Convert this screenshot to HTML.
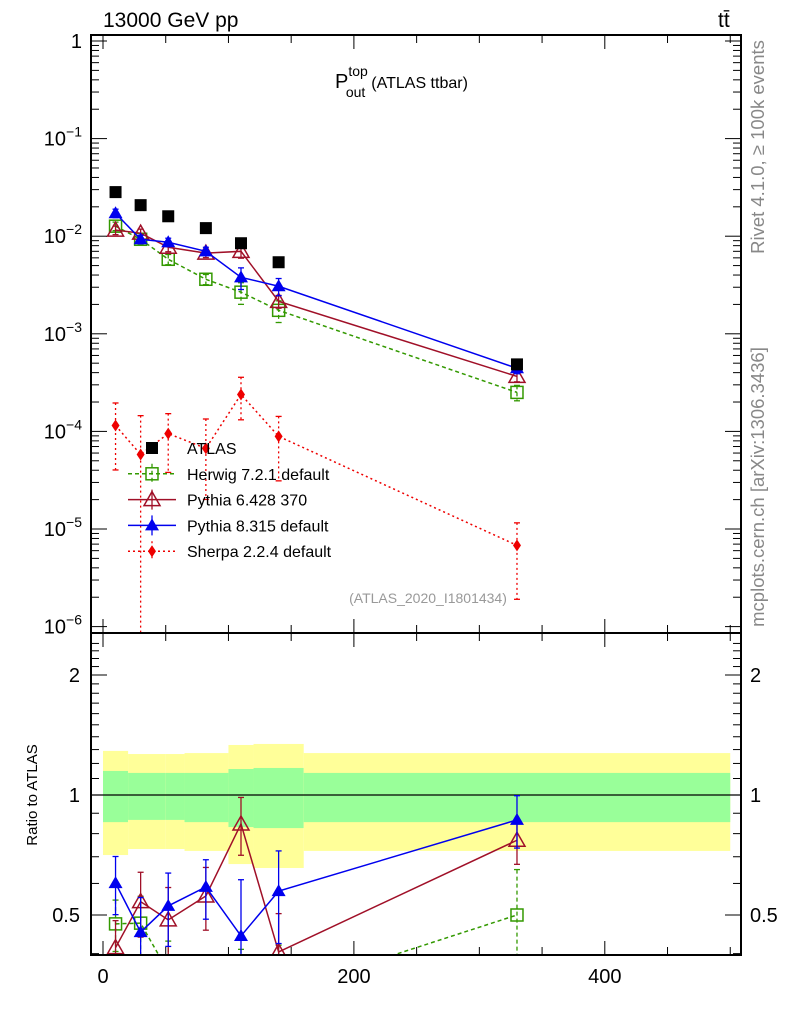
<!DOCTYPE html>
<html><head><meta charset="utf-8"><style>
body{margin:0;background:#fff;}
svg{font-family:"Liberation Sans","DejaVu Sans",sans-serif;}
</style></head><body>
<svg id="c" width="786" height="1024" viewBox="0 0 786 1024" xmlns="http://www.w3.org/2000/svg"></svg>
<script>
const xs=[10,30,52,82,110,140,330];
const atlas=[0.0283,0.0208,0.0160,0.0121,0.00847,0.00541,0.000486];
const herwig=[0.01267,0.0093,0.0058,0.00362,0.00267,0.00174,0.000251];
const herwigErr=[0.1,0.1,0.12,0.12,0.25,0.25,0.18];
const py6=[0.01153,0.01074,0.0077,0.0067,0.0070,0.00215,0.000366];
const py6Err=[0.1,0.1,0.1,0.1,0.15,0.15,0.12];
const py8=[0.0172,0.0093,0.00867,0.0070,0.00379,0.00307,0.000443];
const py8Err=[0.1,0.1,0.1,0.1,0.25,0.2,0.12];
const sherpa=[1.15e-4,5.8e-5,9.5e-5,6.7e-5,2.39e-4,8.9e-5,6.8e-6];
const sherpaUp=[1.7,2.5,1.6,2.0,1.5,1.6,1.7];
const sherpaDn=[0.35,0.01,0.4,0.3,0.55,0.35,0.28];
const rHerwig=[0.475,0.477,0.36,0.30,0.31,0.32,0.5];
const rHerwigErr=[0.07,0.08,0.07,0.06,0.1,0.1,0.15];
const rPy6=[0.414,0.54,0.486,0.558,0.846,0.404,0.77];
const rPy6Err=[0.07,0.1,0.1,0.1,0.14,0.1,0.1];
const rPy8=[0.601,0.453,0.527,0.588,0.443,0.574,0.866];
const rPy8Err=[0.1,0.1,0.11,0.1,0.17,0.15,0.13];
const binEdges=[0,20,50,65,100,120,160,500];
const yelHi=[1.29,1.267,1.267,1.274,1.335,1.343,1.274];
const yelLo=[0.707,0.732,0.732,0.724,0.671,0.656,0.724];
const grnHi=[1.149,1.136,1.136,1.136,1.162,1.169,1.136];
const grnLo=[0.855,0.866,0.866,0.855,0.831,0.826,0.855];
const xTicks=[0,200,400];
const yTickExp=[0,-1,-2,-3,-4,-5,-6];
const rTicks=[0.5,1,2];

const NS="http://www.w3.org/2000/svg",svg=document.getElementById('c');
const L=91,R=741,T=35,B=633,RB=955;
const X=v=>103+v*1.2545;
const Y=v=>41-97.6*Math.log10(v);
const RY=v=>795-120*Math.log2(v);
function el(t,a,p){const e=document.createElementNS(NS,t);for(const k in a)e.setAttribute(k,a[k]);(p||svg).appendChild(e);return e;}
function txt(s,x,y,a,p){const e=el('text',Object.assign({x:x,y:y},a),p);e.textContent=s;return e;}
const defs=el('defs',{});
const cp1=el('clipPath',{id:'cm'},defs);el('rect',{x:L,y:T,width:R-L,height:B-T},cp1);
const cp2=el('clipPath',{id:'cr'},defs);el('rect',{x:L,y:B,width:R-L,height:RB-B},cp2);

const gb=el('g',{'clip-path':'url(#cr)'});

for(let i=0;i<yelHi.length;i++){
 const x0=X(binEdges[i]),x1=X(binEdges[i+1]);
 const y1=el('rect',{x:x0,y:RY(yelHi[i]),width:x1-x0,height:RY(yelLo[i])-RY(yelHi[i]),fill:'#ffff99'},gb);
 
 const g1=el('rect',{x:x0,y:RY(grnHi[i]),width:x1-x0,height:RY(grnLo[i])-RY(grnHi[i]),fill:'#99ff99'},gb);
 
}
el('line',{x1:L,x2:R,y1:RY(1),y2:RY(1),stroke:'#000','stroke-width':1.2});

function marker(type,x,y,col,p){
 let m;
 if(type==='sq')m=el('rect',{x:x-6,y:y-6,width:12,height:12,fill:'#000'},p);
 else if(type==='osq')m=el('rect',{x:x-6,y:y-6,width:12,height:12,fill:'none',stroke:col,'stroke-width':1.5},p);
 else if(type==='otri')m=el('polygon',{points:`${x},${y-8} ${x-8},${y+6} ${x+8},${y+6}`,fill:'none',stroke:col,'stroke-width':1.5},p);
 else if(type==='tri')m=el('polygon',{points:`${x},${y-7} ${x-7},${y+5} ${x+7},${y+5}`,fill:col},p);
 else if(type==='dia')m=el('polygon',{points:`${x},${y-6} ${x-4},${y} ${x},${y+6} ${x+4},${y}`,fill:col},p);
 
}
function series(name,vals,lo,hi,Yf,col,dash,type,clip){
 const g=el('g',{'clip-path':clip});
 
 if(col!=='#000'){
  const pts=vals.map((v,i)=>X(xs[i])+','+Yf(v)).join(' ');
  el('polyline',{points:pts,fill:'none',stroke:col,'stroke-width':1.5,'stroke-dasharray':dash||'none'},g);
 }
 vals.forEach((v,i)=>{
  const x=X(xs[i]);
  if(lo){const a=Yf(hi[i]),b=Yf(Math.max(lo[i],1e-9));
   el('line',{x1:x,x2:x,y1:a,y2:b,stroke:col,'stroke-width':1.3,'stroke-dasharray':dash||'none'},g);
   el('line',{x1:x-3,x2:x+3,y1:a,y2:a,stroke:col,'stroke-width':1.3},g);
   el('line',{x1:x-3,x2:x+3,y1:b,y2:b,stroke:col,'stroke-width':1.3},g);}
  marker(type,x,Yf(v),col,g);
 });
}
const rel=(v,e)=>[v.map((a,i)=>a*(1-e[i])),v.map((a,i)=>a*(1+e[i]))];
const abs=(v,e)=>[v.map((a,i)=>a-e[i]),v.map((a,i)=>a+e[i])];
let t;
t=rel(herwig,herwigErr);series('herwig-series',herwig,t[0],t[1],Y,'#339900','4,3','osq','url(#cm)');
t=rel(py6,py6Err);series('pythia6-series',py6,t[0],t[1],Y,'#a01028',null,'otri','url(#cm)');
t=rel(py8,py8Err);series('pythia8-series',py8,t[0],t[1],Y,'#0000ee',null,'tri','url(#cm)');
series('sherpa-series',sherpa,sherpa.map((v,i)=>v*sherpaDn[i]),sherpa.map((v,i)=>v*sherpaUp[i]),Y,'#ee0000','2,3','dia','url(#cm)');
series('atlas-series',atlas,null,null,Y,'#000',null,'sq','url(#cm)');
t=abs(rHerwig,rHerwigErr);series('herwig-ratio',rHerwig,t[0],t[1],RY,'#339900','4,3','osq','url(#cr)');
t=abs(rPy6,rPy6Err);series('pythia6-ratio',rPy6,t[0],t[1],RY,'#a01028',null,'otri','url(#cr)');
t=abs(rPy8,rPy8Err);series('pythia8-ratio',rPy8,t[0],t[1],RY,'#0000ee',null,'tri','url(#cr)');

const fr=el('rect',{x:L,y:T,width:R-L,height:B-T,fill:'none',stroke:'#000','stroke-width':2});

const fr2=el('rect',{x:L,y:B,width:R-L,height:RB-B,fill:'none',stroke:'#000','stroke-width':2});

for(let v=0;v<=500;v+=50){
 const x=X(v),len=(v%200===0)?14:8;
 [[T,1],[B,-1],[B,1],[RB,-1]].forEach(([y,d])=>el('line',{x1:x,x2:x,y1:y,y2:y+d*len,stroke:'#000','stroke-width':1}));
}
xTicks.forEach(v=>{const e=txt(String(v),X(v),983,{'font-size':20,'text-anchor':'middle'});});
yTickExp.forEach(p=>{
 for(let m=1;m<10;m++){
  const v=Math.pow(10,p)*m;const y=Y(v);if(y<T||y>B)continue;
  const len=m===1?16:8;
  el('line',{x1:L,x2:L+len,y1:y,y2:y,stroke:'#000'});el('line',{x1:R,x2:R-len,y1:y,y2:y,stroke:'#000'});
 }
 const y=Y(Math.pow(10,p));
 const g=el('text',{x:82,y:y+7,'font-size':20,'text-anchor':'end'});
 
 if(p===0)g.textContent='1';else{const a=el('tspan',{},g);a.textContent='10';const b=el('tspan',{dy:-9,'font-size':14});b.textContent='\u2212'+(-p);g.appendChild(b);}
});
for(let v=0.4;v<=2.5;v+=0.1){const y=RY(v);if(y<B||y>RB)continue;const maj=[0.5,1,2].some(q=>Math.abs(q-v)<1e-6);const len=maj?16:8;
 el('line',{x1:L,x2:L+len,y1:y,y2:y,stroke:'#000'});el('line',{x1:R,x2:R-len,y1:y,y2:y,stroke:'#000'});}
rTicks.forEach(v=>{const a=txt(String(v),80,RY(v)+7,{'font-size':20,'text-anchor':'end'});
 const b=txt(String(v),750,RY(v)+7,{'font-size':20});});
const leg=el('g',{});
const ent=[['ATLAS','#000',null,'sq'],['Herwig 7.2.1 default','#339900','4,3','osq'],['Pythia 6.428 370','#a01028',null,'otri'],['Pythia 8.315 default','#0000ee',null,'tri'],['Sherpa 2.2.4 default','#ee0000','2,3','dia']];
ent.forEach((e,i)=>{const y=448+i*25.8;const g=el('g',{},leg);
 if(i>0){el('line',{x1:128,x2:176,y1:y,y2:y,stroke:e[1],'stroke-width':1.5,'stroke-dasharray':e[2]||'none'},g);el('line',{x1:152,x2:152,y1:y-10,y2:y+10,stroke:e[1],'stroke-width':1.3,'stroke-dasharray':e[2]||'none'},g);}
 marker(e[3],152,y,e[1],g);txt(e[0],187,y+6,{'font-size':16},g);});
let a;
a=txt('13000 GeV pp',103,27,{'font-size':21});
a=txt('tt\u0304',718,27,{'font-size':21});
const ti=el('text',{x:335,y:88,'font-size':20});
ti.innerHTML='P<tspan font-size="14" dy="-12">top</tspan><tspan font-size="14" dx="-22" dy="21">out</tspan><tspan font-size="16" dy="-9" dx="6">(ATLAS ttbar)</tspan>';
a=txt('(ATLAS_2020_I1801434)',428,603,{'font-size':14,fill:'#999','text-anchor':'middle'});
a=txt('Rivet 4.1.0, \u2265 100k events',0,0,{'font-size':18.5,fill:'#888','text-anchor':'middle',transform:'translate(764,147) rotate(-90)'});
a=txt('mcplots.cern.ch [arXiv:1306.3436]',0,0,{'font-size':18.5,fill:'#888','text-anchor':'middle',transform:'translate(764,487) rotate(-90)'});
a=txt('Ratio to ATLAS',0,0,{'font-size':15,'text-anchor':'middle',transform:'translate(37,795) rotate(-90)'});
</script>
</body></html>
